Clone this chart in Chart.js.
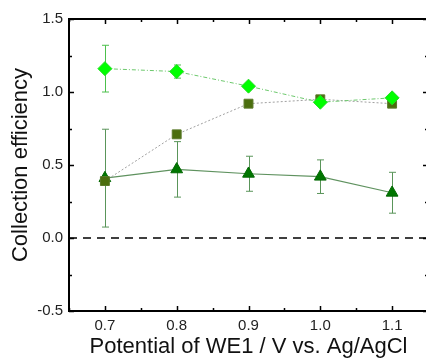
<!DOCTYPE html>
<html>
<head>
<meta charset="utf-8">
<script src="https://cdn.jsdelivr.net/npm/chart.js@4/dist/chart.umd.min.js"></script>
<style>
  html, body { margin: 0; padding: 0; background: #fff; overflow: hidden; }
  canvas { display: block; }
</style>
</head>
<body>
<canvas id="ce" width="436" height="360"></canvas>
<script>
// potentials (V vs. Ag/AgCl)
const potentials = [0.7, 0.8, 0.9, 1.0, 1.1];
const xTicks = [0.7, 0.8, 0.9, 1.0, 1.1];
const yTicks = [-0.5, 0.0, 0.5, 1.0, 1.5];

// collection efficiency, three series
const diamondVals = [1.16, 1.14, 1.04, 0.93, 0.96];
const diamondErr = [0.16, 0.045, 0.0, 0.0, 0.0];
const squareVals = [0.39, 0.71, 0.92, 0.95, 0.92];
const squareErr = [0.0, 0.0, 0.0, 0.0, 0.0];
const triangleVals = [0.41, 0.47, 0.44, 0.42, 0.31];
const triangleErr = [0.335, 0.19, 0.12, 0.115, 0.14];

const pts = vals => potentials.map((x, i) => ({ x: x, y: vals[i] }));

// error bars + zero line under the markers, ticks and frame on top
const extras = {
  id: 'extras',
  beforeDatasetsDraw(chart) {
    const { ctx, chartArea: a, scales: { x, y } } = chart;
    ctx.save();
    ctx.strokeStyle = '#000';
    ctx.lineWidth = 1.5;
    ctx.setLineDash([8, 6]);
    ctx.beginPath();
    ctx.moveTo(a.left, y.getPixelForValue(0));
    ctx.lineTo(a.right, y.getPixelForValue(0));
    ctx.stroke();
    ctx.setLineDash([]);
    const bars = [
      [triangleVals, triangleErr, '#5a955a'],
      [squareVals, squareErr, '#7a9a50'],
      [diamondVals, diamondErr, '#4cc04c']
    ];
    ctx.lineWidth = 1;
    bars.forEach(([vals, errs, col]) => {
      ctx.strokeStyle = col;
      vals.forEach((v, i) => {
        if (!errs[i]) return;
        const px = Math.round(x.getPixelForValue(potentials[i])) + 0.5;
        const top = y.getPixelForValue(v + errs[i]);
        const bot = y.getPixelForValue(v - errs[i]);
        ctx.beginPath();
        ctx.moveTo(px, top); ctx.lineTo(px, bot);
        ctx.moveTo(px - 3.5, top); ctx.lineTo(px + 3.5, top);
        ctx.moveTo(px - 3.5, bot); ctx.lineTo(px + 3.5, bot);
        ctx.stroke();
      });
    });
    ctx.restore();
  },
  afterDatasetsDraw(chart) {
    const { ctx, chartArea: a, scales: { x, y } } = chart;
    ctx.save();
    ctx.strokeStyle = '#000';
    ctx.lineWidth = 1.5;
    ctx.beginPath();
    for (let v = 0.65; v <= 1.151; v += 0.05) {
      const px = Math.round(x.getPixelForValue(v)) + 0.5;
      const major = Math.abs(Math.round(v * 10) - v * 10) < 1e-6;
      const len = major ? 5 : 3;
      ctx.moveTo(px, a.bottom); ctx.lineTo(px, a.bottom - len);
      ctx.moveTo(px, a.top); ctx.lineTo(px, a.top + len);
    }
    for (let v = -0.5; v <= 1.501; v += 0.25) {
      const py = Math.round(y.getPixelForValue(v)) + 0.5;
      const major = Math.abs(Math.round(v * 2) - v * 2) < 1e-6;
      const len = major ? 5 : 3;
      ctx.moveTo(a.left, py); ctx.lineTo(a.left + len, py);
      ctx.moveTo(a.right, py); ctx.lineTo(a.right - len, py);
    }
    ctx.stroke();
    ctx.lineWidth = 2;
    ctx.strokeRect(a.left, a.top, a.right - a.left, a.bottom - a.top);
    ctx.restore();
  }
};

new Chart(document.getElementById('ce'), {
  type: 'line',
  data: {
    datasets: [
      {
        label: 'diamond',
        data: pts(diamondVals),
        borderColor: '#6cc86c',
        borderWidth: 1,
        borderDash: [4, 2, 1, 2],
        pointStyle: 'rectRot',
        pointRadius: 7,
        pointBackgroundColor: '#00ff00',
        pointBorderColor: '#22dd22',
        pointBorderWidth: 1
      },
      {
        label: 'square',
        data: pts(squareVals),
        borderColor: '#a0a0a0',
        borderWidth: 1,
        borderDash: [2, 2],
        pointStyle: 'rect',
        pointRadius: 6.3,
        pointBackgroundColor: '#4b6e0e',
        pointBorderColor: '#5b7a2a',
        pointBorderWidth: 1
      },
      {
        label: 'triangle',
        data: pts(triangleVals),
        borderColor: '#5f925f',
        borderWidth: 1.2,
        pointStyle: 'triangle',
        pointRadius: 6.8,
        pointBackgroundColor: '#007600',
        pointBorderColor: '#006800',
        pointBorderWidth: 1
      }
    ]
  },
  options: {
    responsive: false,
    animation: false,
    layout: { padding: { left: 0, top: 19, right: 3, bottom: 0 } },
    plugins: { legend: { display: false }, tooltip: { enabled: false } },
    scales: {
      x: {
        type: 'linear',
        min: 0.65,
        max: 1.15,
        afterBuildTicks: axis => { axis.ticks = xTicks.map(v => ({ value: v })); },
        afterFit: axis => { axis.height = 49; },
        grid: { display: false, drawTicks: false },
        border: { display: false },
        ticks: {
          color: '#222',
          padding: 6,
          font: { family: 'Liberation Sans', size: 15 },
          callback: v => v.toFixed(1)
        },
        title: {
          display: true,
          text: 'Potential of WE1 / V vs. Ag/AgCl',
          color: '#111',
          padding: { top: 0, bottom: 0 },
          font: { family: 'Liberation Sans', size: 22 }
        }
      },
      y: {
        min: -0.5,
        max: 1.5,
        afterBuildTicks: axis => { axis.ticks = yTicks.map(v => ({ value: v })); },
        afterFit: axis => { axis.width = 69; },
        grid: { display: false, drawTicks: false },
        border: { display: false },
        ticks: {
          color: '#222',
          padding: 6,
          font: { family: 'Liberation Sans', size: 15 },
          callback: v => v.toFixed(1)
        },
        title: {
          display: true,
          text: 'Collection efficiency',
          color: '#111',
          padding: { top: 8, bottom: 0 },
          font: { family: 'Liberation Sans', size: 22 }
        }
      }
    }
  },
  plugins: [extras]
});
</script>
</body>
</html>
